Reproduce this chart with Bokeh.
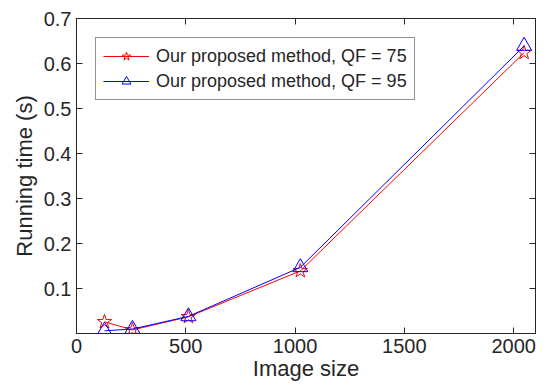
from bokeh.plotting import figure
from bokeh.models import LinearAxis, Range1d, Legend, LegendItem, FixedTicker
from bokeh.embed import file_html
from bokeh.resources import INLINE

image_size = [128, 256, 512, 1024, 2048]
time_qf75 = [0.026, 0.008, 0.037, 0.139, 0.624]
time_qf95 = [0.006, 0.010, 0.038, 0.147, 0.639]
labels = ["Our proposed method, QF = 75", "Our proposed method, QF = 95"]
x_ticks = [0, 500, 1000, 1500, 2000]
y_ticks = [0, 0.1, 0.2, 0.3, 0.4, 0.5, 0.6, 0.7]

FONT = "Liberation Sans"
TXT = "#262626"

p = figure(width=544, height=385, output_backend="svg", toolbar_location=None,
           x_range=Range1d(0, 2100), y_range=Range1d(0, 0.7),
           min_border_left=76, min_border_right=9, min_border_top=18, min_border_bottom=52)
p.frame_width = 459
p.frame_height = 315
p.grid.visible = False
p.outline_line_color = "#262626"
p.background_fill_color = "white"
p.border_fill_color = "white"

r1 = p.line(image_size, time_qf75, color="red", line_width=1)
m1 = p.scatter(image_size, time_qf75, marker="star", size=15, fill_color=None,
               line_color="red", line_width=1)
r2 = p.line(image_size, time_qf95, color="blue", line_width=1)
m2 = p.scatter(image_size, time_qf95, marker="triangle", size=15, fill_color=None,
               line_color="blue", line_width=1)

def style(ax):
    ax.major_tick_in = 6
    ax.major_tick_out = 0
    ax.minor_tick_in = 0
    ax.minor_tick_out = 0
    ax.axis_line_color = "#262626"
    ax.major_tick_line_color = "#262626"
    ax.major_label_text_font = FONT
    ax.major_label_text_color = TXT
    ax.major_label_text_font_size = "20px"
    ax.axis_label_text_font = FONT
    ax.axis_label_text_color = TXT
    ax.axis_label_text_font_size = "22px"
    ax.axis_label_text_font_style = "normal"

p.xaxis.ticker = FixedTicker(ticks=x_ticks)
p.yaxis.ticker = FixedTicker(ticks=y_ticks)
p.yaxis.major_label_overrides = {0: ""}
style(p.xaxis[0])
style(p.yaxis[0])
p.xaxis.axis_label = "Image size"
p.yaxis.axis_label = "Running time (s)"
p.xaxis.major_label_standoff = 5
p.yaxis.major_label_standoff = 5
p.xaxis.axis_label_standoff = 0
p.yaxis.axis_label_standoff = 4

top = LinearAxis(ticker=FixedTicker(ticks=x_ticks))
style(top)
top.major_label_overrides = {t: "" for t in x_ticks}
top.major_label_standoff = 0
p.add_layout(top, "above")
right = LinearAxis(ticker=FixedTicker(ticks=y_ticks))
style(right)
right.major_label_overrides = {t: "" for t in y_ticks}
right.major_label_standoff = 0
p.add_layout(right, "right")

legend = Legend(items=[LegendItem(label=labels[0], renderers=[r1, m1]),
                       LegendItem(label=labels[1], renderers=[r2, m2])],
                location="top_left")
legend.label_text_font = FONT
legend.label_text_color = TXT
legend.label_text_font_size = "18px"
legend.border_line_color = "#262626"
legend.border_line_width = 1
legend.margin = 19
legend.padding = 7
legend.spacing = 3
legend.glyph_width = 46
legend.glyph_height = 22
legend.label_height = 22
legend.label_standoff = 7
legend.background_fill_alpha = 1
p.add_layout(legend)

open("out.html", "w").write(file_html(p, INLINE))
